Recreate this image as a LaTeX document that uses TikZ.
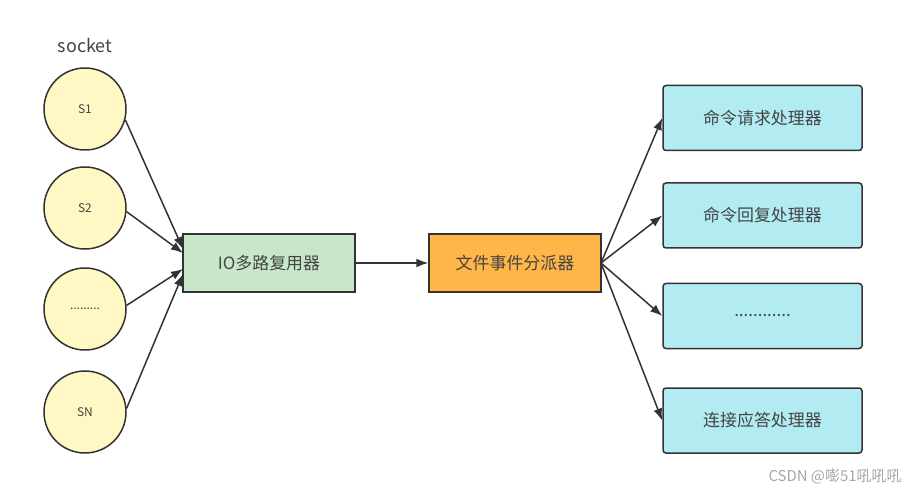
\documentclass[tikz,border=0pt]{standalone}
\usepackage{fontspec}
\setmainfont{Noto Sans CJK SC}
\usetikzlibrary{arrows.meta}
\definecolor{edge}{HTML}{333333}
\definecolor{txt}{HTML}{444444}
\definecolor{yel}{HTML}{FFF8C4}
\definecolor{grn}{HTML}{C8E6C9}
\definecolor{org}{HTML}{FFB548}
\definecolor{cyn}{HTML}{B2EBF2}
\tikzset{
  sock/.style={circle,draw=edge,line width=1.5bp,fill=yel,minimum size=82bp,inner sep=0,text=txt,font=\fontsize{12}{14}\selectfont},
  midbox/.style={draw=edge,line width=1.5bp,minimum width=172bp,minimum height=58bp,inner sep=0,text=txt,font=\fontsize{17}{19}\selectfont},
  handler/.style={draw=edge,line width=1.5bp,fill=cyn,rounded corners=3bp,minimum width=199bp,minimum height=65bp,inner sep=0,text=txt,font=\fontsize{17}{19}\selectfont},
  conn/.style={draw=edge,line width=1.5bp,-{Latex[length=12bp,width=9bp]}}
}
\begin{document}
\begin{tikzpicture}[x=1bp,y=-1bp]
\useasboundingbox[fill=white] (0,0) rectangle (919,497);
\node[text=txt,font=\fontsize{18}{20}\selectfont] (lbl) at (85,45) {socket};
\node[sock] (s1) at (85,109) {S1};
\node[sock] (s2) at (85,208) {S2};
\node[sock] (s3) at (85,309) {.........};
\node[sock] (sn) at (85,412) {SN};
\node[midbox,fill=grn] (io) at (269,263) {IO多路复用器};
\node[midbox,fill=org] (disp) at (515,263) {文件事件分派器};
\node[handler] (h1) at (762.5,118) {命令请求处理器};
\node[handler] (h2) at (762.5,215.5) {命令回复处理器};
\node[handler] (h3) at (762.5,316) {............};
\node[handler] (h4) at (762.5,420.5) {连接应答处理器};
\coordinate (e1) at (183,249);
\coordinate (e2) at (183,253);
\coordinate (e3) at (183,269);
\coordinate (e4) at (183,274);
\draw[conn] (s1.-15) -- (e1);
\draw[conn] (s2.-5) -- (e2);
\draw[conn] (s3.5) -- (e3);
\draw[conn] (sn.5) -- (e4);
\draw[conn] (io) -- (disp);
\coordinate (f0) at (601,263);
\draw[conn] (f0) -- (h1.west);
\draw[conn] (f0) -- (h2.west);
\draw[conn] (f0) -- (h3.west);
\draw[conn] (f0) -- (h4.west);
\node[text=gray!70,font=\fontsize{15}{17}\selectfont,anchor=east] (wm) at (905,477) {CSDN @嘭51吼吼吼};
\end{tikzpicture}
\end{document}
